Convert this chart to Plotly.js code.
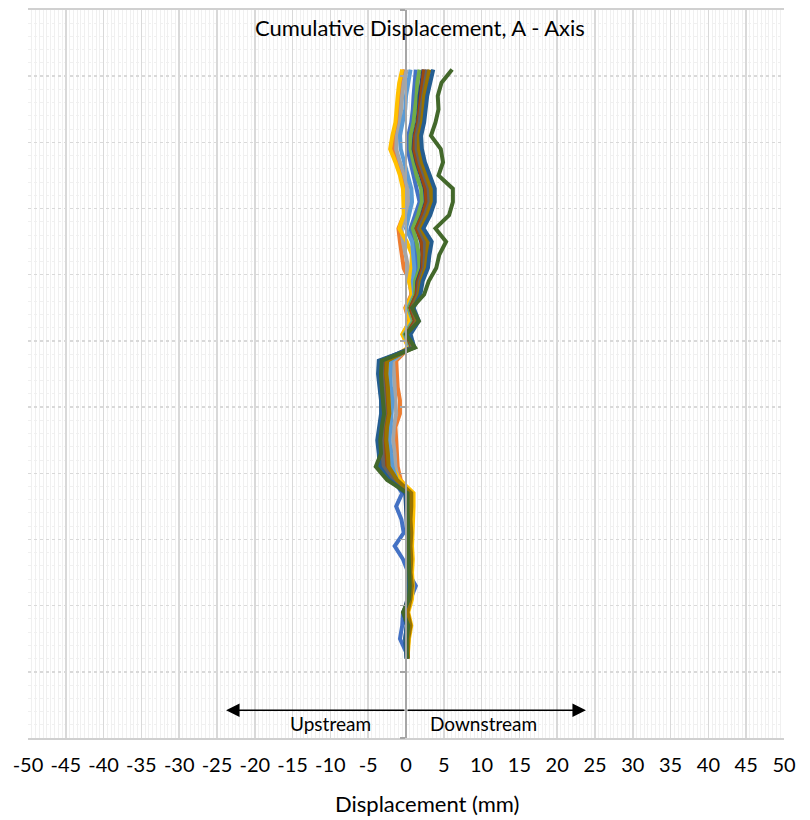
<!DOCTYPE html>
<html>
<head>
<meta charset="utf-8">
<script src="https://cdn.plot.ly/plotly-3.0.1.min.js"></script>
<style>html,body{margin:0;padding:0;background:#fff;}#chart{width:810px;height:820px;}</style>
</head>
<body>
<div id="chart"></div>
<script>
// Depth below top (m) — hidden vertical axis
const depth = [4.5,5.5,6.5,7.5,8.5,9.5,10.5,11.5,12.5,13.5,14.5,15.5,16.5,17.5,18.5,19.5,20.5,21.5,22.5,23.5,24.5,25.5,26.5,27.5,28.5,29.5,30.5,31.5,32.5,33.5,34.5,35.5,36.5,37.5,38.5,39.5,40.5,41.5,42.5,43.5,44.5,45.5,46.5,47.5,48.5,49.0];

const reading1 = [1.3,1.1,1.0,0.9,0.7,0.3,0.2,0.6,1.0,1.5,1.8,1.2,0.6,0.9,1.4,1.5,1.0,1.0,0.3,0.8,-0.3,0.6,
  -2.9,-3.0,-2.8,-2.7,-2.6,-2.9,-3.0,-1.4,-2.8,
  -1.6,-0.5,-1.3,-0.6,-0.3,-1.5,-0.4,0.3,1.3,0.6,-0.4,-0.5,-0.8,0.0,0.1];
const reading2 = [-0.2,-0.6,-0.8,-0.9,-1.1,-1.5,-1.7,-1.1,-0.5,-0.2,-0.1,-0.3,-1.0,-0.8,-0.6,-0.3,0.5,0.7,-0.1,0.4,-0.3,0.4,
  -1.3,-1.2,-1.1,-0.8,-0.8,-1.4,-1.3,-1.2,-1.1,
  -0.7,0.6,0.6,0.8,0.6,0.7,0.8,0.6,0.8,0.7,0.2,0.6,0.3,0.2,0.2];
const reading3 = [0.1,-0.3,-0.5,-0.6,-0.8,-1.2,-1.3,-0.8,-0.2,0.2,0.3,0.0,-0.6,-0.4,-0.1,0.3,0.4,0.8,0.2,0.6,-0.4,0.5,
  -1.7,-1.6,-1.5,-1.4,-1.3,-1.6,-1.7,-1.5,-1.4,
  -1.0,0.4,0.5,0.5,0.6,0.4,0.6,0.5,0.7,0.5,0.1,0.5,0.2,0.2,0.2];
const reading4 = [-0.5,-0.9,-1.1,-1.2,-1.4,-1.8,-2.1,-1.4,-0.8,-0.4,-0.3,-0.3,-0.9,0.1,0.8,0.7,0.4,0.8,0.0,0.5,-0.5,0.3,
  -2.4,-2.3,-2.2,-2.1,-2.0,-2.3,-2.4,-2.2,-1.9,
  -0.8,1.0,1.0,0.9,0.8,0.8,0.9,0.8,0.9,0.8,0.3,0.7,0.4,0.3,0.2];
const reading5 = [0.6,0.3,0.0,-0.1,-0.4,-0.8,-0.7,-0.2,0.3,0.7,0.8,0.4,0.0,0.8,1.0,1.1,0.9,1.1,0.3,0.9,-0.2,0.6,
  -2.0,-2.1,-2.0,-1.8,-1.9,-2.1,-2.2,-2.0,-1.8,
  -1.2,0.3,0.4,0.3,0.5,0.4,0.5,0.4,0.6,0.4,0.0,0.3,0.2,0.1,0.1];
const reading6 = [1.8,1.5,1.4,1.2,1.0,0.6,0.6,1.0,1.4,2.0,2.1,1.6,0.9,1.4,1.7,1.8,1.2,1.2,0.4,1.0,-0.1,0.7,
  -2.6,-2.7,-2.6,-2.4,-2.4,-2.7,-2.8,-2.6,-2.5,
  -1.4,0.2,0.1,0.3,0.2,0.3,0.3,0.3,0.4,0.4,-0.1,0.3,0.1,0.1,0.1];
const reading7 = [2.3,2.0,1.8,1.7,1.5,1.1,1.0,1.4,1.9,2.5,2.6,2.1,1.4,2.0,2.2,2.1,1.5,1.4,0.6,1.2,0.1,0.8,
  -3.4,-3.5,-3.4,-3.2,-3.1,-3.3,-3.6,-3.4,-3.3,
  -2.0,-0.1,0.0,0.1,0.1,0.2,0.2,0.2,0.3,0.2,-0.3,0.1,-0.1,0.0,0.1];
const reading8 = [2.4,2.2,1.9,1.8,1.6,1.2,1.1,1.5,2.0,2.6,2.7,2.2,1.4,2.1,2.2,2.2,1.6,1.4,0.6,1.2,0.1,0.8,
  -2.8,-2.9,-2.8,-2.6,-2.5,-2.8,-3.0,-2.8,-2.7,
  -1.5,0.4,0.5,0.5,0.5,0.5,0.6,0.5,0.6,0.5,0.0,0.4,0.2,0.2,0.2];
const reading9 = [2.8,2.5,2.2,2.0,1.8,1.4,1.4,1.8,2.4,3.0,3.1,2.5,1.7,2.5,2.5,2.4,1.8,1.6,0.8,1.4,0.3,0.9,
  -3.1,-3.2,-3.0,-2.9,-2.8,-3.1,-3.2,-3.1,-3.0,
  -1.7,0.2,0.3,0.3,0.4,0.4,0.4,0.4,0.5,0.4,-0.1,0.3,0.1,0.1,0.1];
const reading10 = [3.1,2.8,2.4,2.3,2.1,1.7,1.7,2.1,2.7,3.3,3.4,2.8,2.0,2.9,2.8,2.6,2.0,1.7,0.9,1.5,0.4,1.0,
  -2.5,-2.6,-2.4,-2.3,-2.2,-2.5,-2.6,-2.4,-2.3,
  -1.2,0.7,0.7,0.6,0.7,0.6,0.7,0.6,0.8,0.6,0.2,0.6,0.3,0.2,0.2];
const reading11 = [3.6,3.2,2.8,2.6,2.4,2.0,2.1,2.5,3.1,3.8,3.8,3.2,2.3,3.4,3.1,2.9,2.2,1.9,1.0,1.7,0.6,1.1,
  -3.6,-3.7,-3.5,-3.3,-3.3,-3.5,-3.8,-3.6,-3.5,
  -2.2,0.0,0.1,0.2,0.2,0.2,0.2,0.3,0.3,0.3,-0.3,0.1,-0.1,0.0,0.1];
const reading12 = [6.1,4.7,4.2,4.3,3.9,3.3,4.6,4.9,4.3,6.2,6.2,5.7,3.9,5.3,4.4,4.0,3.0,2.4,0.8,1.7,0.0,1.2,
  -3.2,-3.3,-3.2,-3.0,-2.9,-3.2,-3.4,-3.3,-4.0,
  -2.5,0.2,0.2,0.3,0.3,0.3,0.4,0.4,0.5,0.4,-0.4,0.3,0.1,0.1,0.2];

const seriesNames = ["Reading 1","Reading 2","Reading 3","Reading 4","Reading 5","Reading 6","Reading 7","Reading 8","Reading 9","Reading 10","Reading 11","Reading 12"];
const seriesValues = [reading1,reading2,reading3,reading4,reading5,reading6,reading7,reading8,reading9,reading10,reading11,reading12];
const seriesColors = ["#4472C4","#ED7D31","#A5A5A5","#FFC000","#5B9BD5","#70AD47","#264478","#9E480E","#636363","#997300","#255E91","#43682B"];

const xTickVals = [-50,-45,-40,-35,-30,-25,-20,-15,-10,-5,0,5,10,15,20,25,30,35,40,45,50];
const xTickText = ["-50","-45","-40","-35","-30","-25","-20","-15","-10","-5","0","5","10","15","20","25","30","35","40","45","50"];

const FONT = "Lato, 'Open Sans', sans-serif";

const traces = seriesValues.map((vals, i) => ({
  type: "scatter", mode: "lines", name: seriesNames[i],
  x: vals, y: depth,
  line: {color: seriesColors[i], width: 4},
  hoverinfo: "skip"
}));

const plotL = 28, plotR = 26, plotT = 10, plotB = 82;
const pw = 810 - plotL - plotR, ph = 820 - plotT - plotB;

const layout = {
  width: 810, height: 820,
  margin: {l: plotL, r: plotR, t: plotT, b: plotB},
  paper_bgcolor: "#ffffff", plot_bgcolor: "#ffffff",
  showlegend: false,
  font: {family: FONT, color: "#000000", size: 18},
  title: {text: "Cumulative Displacement, A - Axis", font: {family: FONT, size: 22, color: "#000"},
          x: 0.5185, xanchor: "center", y: 0.966, yanchor: "middle", xref: "container", yref: "container"},
  xaxis: {
    range: [-50, 50], tickmode: "array", tickvals: xTickVals, ticktext: xTickText,
    showgrid: true, gridcolor: "#d9d9d9", gridwidth: 1.5,
    minor: {dtick: 0.5, showgrid: true, gridcolor: "#f0f0f0", gridwidth: 1},
    zeroline: false, showline: true, linecolor: "#d0d0d0", linewidth: 2, mirror: true,
    ticks: "", tickfont: {family: FONT, size: 20, color: "#000"}, ticklabelstandoff: 8
  },
  yaxis: {
    range: [55, 0], dtick: 5, tick0: 0,
    showgrid: true, gridcolor: "#d9d9d9", gridwidth: 1.5, griddash: "dot",
    minor: {dtick: 1, showgrid: true, gridcolor: "#f0f0f0", gridwidth: 1},
    zeroline: false, showticklabels: false,
    anchor: "free", position: 0.5, showline: true, linecolor: "#a6a6a6", linewidth: 2,
    ticks: "outside", ticklen: 5, tickwidth: 1.5, tickcolor: "#a6a6a6"
  },
  annotations: [
    {x: -23.8, y: 52.9, ax: 0, ay: 52.9, xref: "x", yref: "y", axref: "x", ayref: "y",
     showarrow: true, arrowhead: 2, arrowsize: 1.8, arrowwidth: 1.5, arrowcolor: "#000", text: ""},
    {x: 23.8, y: 52.9, ax: 0, ay: 52.9, xref: "x", yref: "y", axref: "x", ayref: "y",
     showarrow: true, arrowhead: 2, arrowsize: 1.8, arrowwidth: 1.5, arrowcolor: "#000", text: ""},
    {x: -10, y: 53.9, xref: "x", yref: "y", text: "Upstream", showarrow: false,
     font: {family: FONT, size: 19, color: "#000"}},
    {x: 10.3, y: 53.9, xref: "x", yref: "y", text: "Downstream", showarrow: false,
     font: {family: FONT, size: 19, color: "#000"}},
    {x: (427 - plotL) / pw, y: (820 - plotB - 804) / ph, xref: "paper", yref: "paper",
     yanchor: "middle", xanchor: "center",
     text: "Displacement (mm)", showarrow: false, font: {family: FONT, size: 22, color: "#000"}}
  ]
};

Plotly.newPlot("chart", traces, layout, {staticPlot: true, displayModeBar: false});
</script>
</body>
</html>
